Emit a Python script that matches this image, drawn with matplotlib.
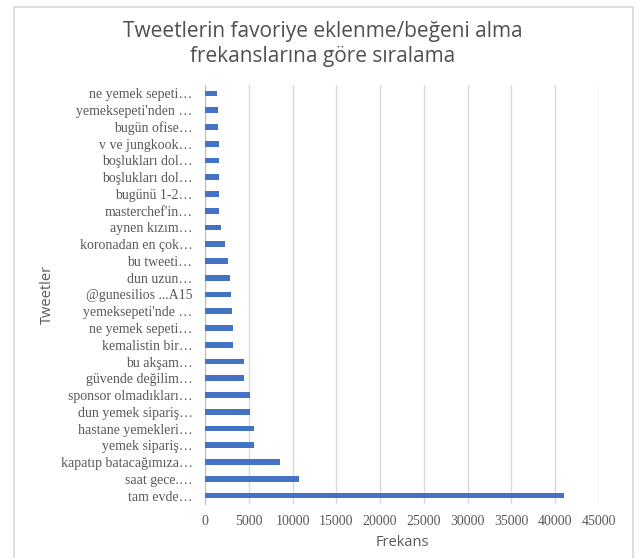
import matplotlib.pyplot as plt
from matplotlib.patches import Rectangle

# tweets, top to bottom as shown in the chart
tweets = [
    "ne yemek sepeti…", "yemeksepeti'nden …", "bugün ofise…", "v ve jungkook…",
    "boşlukları dol…", "boşlukları dol…", "bugünü 1-2…", "masterchef'in…",
    "aynen kızım…", "koronadan en çok…", "bu tweeti…", "dun uzun…",
    "@gunesilios ...A15", "yemeksepeti'nde …", "ne yemek sepeti…", "kemalistin bir…",
    "bu akşam…", "güvende değilim…", "sponsor olmadıkları…", "dun yemek sipariş…",
    "hastane yemekleri…", "yemek sipariş…", "kapatıp batacağımıza…", "saat gece.…",
    "tam evde…",
]
freqs = [
    1330, 1450, 1450, 1560, 1560, 1560, 1560, 1640, 1830, 2320, 2630, 2820,
    2930, 3120, 3240, 3240, 4500, 4500, 5100, 5100, 5600, 5600, 8570, 10740,
    40960,
]
xticks = list(range(0, 45001, 5000))

gray = "#595959"
fig = plt.figure(figsize=(6.36, 5.58), dpi=100)
fig.patches.append(Rectangle((14 / 636, -5 / 558), 619 / 636, 556 / 558,
                             transform=fig.transFigure, fill=False,
                             edgecolor="#d9d9d9", linewidth=1.2))

ax = fig.add_axes([205 / 636, 54 / 558, 394 / 636, 419 / 558])
pos = list(range(len(tweets)))
ax.barh(pos, freqs, height=0.34, color="#4472C4", zorder=3)
ax.set_ylim(len(tweets) - 0.5, -0.5)
ax.set_xlim(0, 45000)
ax.set_yticks(pos)
ax.set_yticklabels(tweets, family="Liberation Serif", fontsize=10, color=gray)
ax.set_xticks(xticks)
ax.set_xticklabels([str(t) for t in xticks], family="Liberation Serif",
                   fontsize=10, color=gray)
ax.tick_params(length=0)
ax.tick_params(axis="x", pad=8)
ax.tick_params(axis="y", pad=9)
ax.grid(axis="x", color="#d9d9d9", linewidth=1, zorder=0)
for s in ["top", "right", "bottom"]:
    ax.spines[s].set_visible(False)
ax.spines["left"].set_color("#bfbfbf")

ax.set_xlabel("Frekans", family="Open Sans", fontsize=10.5, color=gray, labelpad=5)
fig.text(47 / 636, 1 - 294 / 558, "Tweetler", rotation=90, ha="center", va="center",
         family="Open Sans", fontsize=10.5, color=gray)

fig.text(0.508, 1 - 32 / 558, "Tweetlerin favoriye eklenme/beğeni alma",
         ha="center", va="center", family="Open Sans", fontsize=15, color="#505050")
fig.text(0.508, 1 - 56 / 558, "frekanslarına göre sıralama",
         ha="center", va="center", family="Open Sans", fontsize=15, color="#505050")

fig.savefig("out.png", dpi=100)
